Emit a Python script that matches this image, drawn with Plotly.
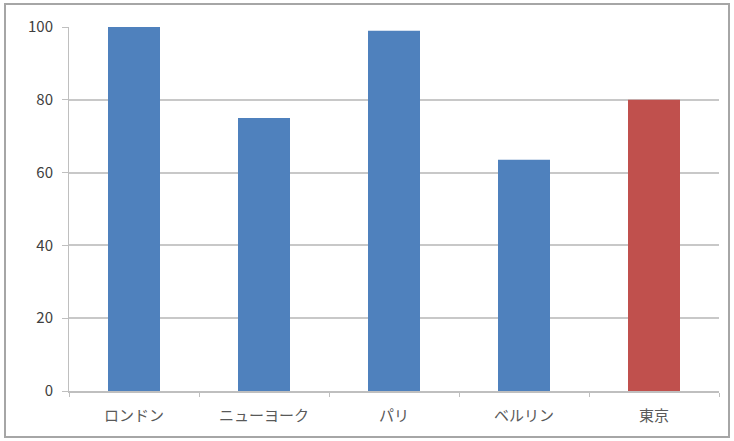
import plotly.graph_objects as go

# City scores
cities = ["ロンドン", "ニューヨーク", "パリ", "ベルリン", "東京"]
scores = [100, 75, 99, 63.5, 80]
bar_colors = ["#4f81bd", "#4f81bd", "#4f81bd", "#4f81bd", "#c0504d"]
y_ticks = [0, 20, 40, 60, 80, 100]

fig = go.Figure(
    go.Bar(
        x=cities,
        y=scores,
        marker=dict(color=bar_colors, line=dict(width=0)),
        width=0.4,
    )
)

W, H = 734, 441
ml, mr, mt, mb = 69, 15, 27, 50
pw, ph = W - ml - mr, H - mt - mb

def px_x(p):
    return (p - ml) / pw

def px_y(p):
    return (H - mb - p) / ph

fig.update_layout(
    width=W,
    height=H,
    margin=dict(l=ml, r=mr, t=mt, b=mb),
    paper_bgcolor="white",
    plot_bgcolor="white",
    showlegend=False,
    font=dict(family="Noto Sans CJK JP, sans-serif", size=15, color="#595959"),
    bargap=0.6,
    shapes=[
        dict(
            type="rect",
            xref="paper",
            yref="paper",
            x0=px_x(5),
            x1=px_x(729),
            y0=px_y(437),
            y1=px_y(4),
            line=dict(color="#a6a6a6", width=2),
            fillcolor="rgba(0,0,0,0)",
            layer="below",
        )
    ],
)

fig.update_yaxes(
    range=[0, 100],
    tickvals=y_ticks,
    showgrid=True,
    gridcolor="#c8c8c8",
    gridwidth=1.5,
    showline=True,
    linecolor="#bfbfbf",
    linewidth=1,
    ticks="outside",
    ticklen=6,
    tickcolor="#bfbfbf",
    zeroline=False,
    tickfont=dict(size=15, color="#404040"),
    ticklabelstandoff=6,
)

fig.update_xaxes(
    showline=True,
    linecolor="#bfbfbf",
    linewidth=1.5,
    ticks="outside",
    ticklen=4,
    tickcolor="#bfbfbf",
    tickson="boundaries",
    showgrid=False,
    tickfont=dict(size=15, color="#595959"),
    ticklabelstandoff=10,
)

fig.write_html("out.html")
